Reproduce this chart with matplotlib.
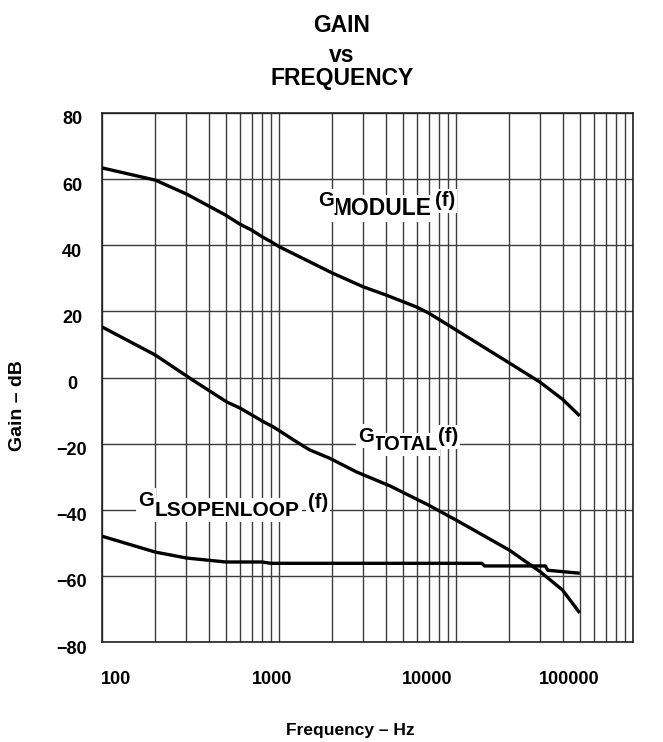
import matplotlib
matplotlib.use("Agg")
import matplotlib.pyplot as plt
import matplotlib.transforms as mtransforms
from matplotlib.ticker import LogLocator, NullFormatter

# data (Hz, dB)
freq_module = [100, 200, 300, 400, 500, 600, 700, 800, 900, 1000, 2000, 3000, 4000, 6000, 7000, 10000, 20000, 30000, 40000, 50000]
gain_module = [63.4, 59.7, 55.5, 51.9, 49.1, 46.4, 44.6, 42.6, 41.1, 39.6, 31.6, 27.4, 25.0, 21.3, 19.5, 14.4, 4.4, -1.5, -6.6, -11.6]

freq_total = [100, 200, 326, 507, 600, 818, 933, 1260, 1490, 1930, 2750, 4240, 7000, 10000, 20000, 30000, 40000, 50000]
gain_total = [15.3, 6.8, -0.8, -7.4, -9.2, -13.4, -15.0, -19.5, -21.9, -24.4, -28.6, -32.8, -38.6, -43.1, -52.2, -58.8, -64.3, -71.2]

freq_open = [100, 200, 300, 500, 800, 900, 14000, 14500, 32000, 33000, 50000]
gain_open = [-48.0, -52.8, -54.6, -55.8, -55.8, -56.2, -56.2, -57.0, -57.0, -58.3, -59.2]

x_ticks = [100, 1000, 10000, 100000]
x_ticklabels = ["100", "1000", "10000", "100000"]
x_label_shift = [14, -7, -29, -64]   # pixels, labels sit off the decade lines in the original
y_ticks = [80, 60, 40, 20, 0, -20, -40, -60, -80]

W, H = 663, 742
plt.rcParams['font.family'] = ['Liberation Sans', 'DejaVu Sans']
plt.rcParams['font.weight'] = 'bold'

fig = plt.figure(figsize=(W / 100, H / 100), dpi=100)
ax = fig.add_axes([102 / W, 1 - 642 / H, 531 / W, 529 / H])

grid_col = '#3c3c3c'
for fx, gy in [(freq_module, gain_module), (freq_total, gain_total), (freq_open, gain_open)]:
    ax.plot(fx, gy, color='black', lw=2.4, solid_capstyle='butt', solid_joinstyle='round', zorder=3)

ax.set_xscale('log')
ax.set_xlim(100, 100000)
ax.set_ylim(-80, 80)
ax.set_xticks(x_ticks)
ax.set_xticklabels(x_ticklabels)
ax.xaxis.set_minor_locator(LogLocator(base=10, subs=range(2, 10)))
ax.xaxis.set_minor_formatter(NullFormatter())
ax.set_yticks(y_ticks)
ax.grid(True, which='major', color=grid_col, lw=1.0)
ax.grid(True, which='minor', axis='x', color=grid_col, lw=1.0)
ax.tick_params(which='both', length=0)
ax.tick_params(axis='x', pad=21, labelsize=13)
ax.tick_params(axis='y', pad=21.6, labelsize=13)
for s in ax.spines.values():
    s.set_color('#222222')
    s.set_linewidth(1.2)

for lab in ax.get_yticklabels():
    lab.set_horizontalalignment('center')
    lab.set_transform(lab.get_transform() + mtransforms.ScaledTranslation(0, -5 / 100, fig.dpi_scale_trans))
for lab, dx in zip(ax.get_xticklabels(), x_label_shift):
    lab.set_transform(lab.get_transform() + mtransforms.ScaledTranslation(dx / 100, 0, fig.dpi_scale_trans))

def px(x, y):
    return x / W, 1 - y / H

# title
fig.text(*px(342, 26), "GAIN", ha='center', va='center', fontsize=16.5)
fig.text(*px(342, 55), "vs", ha='center', va='center', fontsize=16.5)
fig.text(*px(342, 78), "FREQUENCY", ha='center', va='center', fontsize=16.5)

fig.text(*px(350, 730), "Frequency \u2013 Hz", ha='center', va='center', fontsize=12.5)
fig.text(*px(18, 406), "Gain \u2013 dB", ha='center', va='center', rotation=90, fontsize=14)

# curve labels: G, lowered name, (f)
box = dict(facecolor='white', edgecolor='none', pad=1.5)
curve_labels = [
    ((318, 201), (332, 208.5), (435, 201), "MODULE", 16.5),
    ((358, 436), (373, 444.5), (438, 437), "TOTAL", 14.5),
    ((138, 500), (155, 510), (308, 502), "LSOPENLOOP", 15),
]
for g_pos, n_pos, f_pos, name, size in curve_labels:
    fig.text(*px(*n_pos), name, ha='left', va='center', fontsize=size, bbox=box)
    fig.text(*px(*g_pos), "G", ha='left', va='center', fontsize=14.5, bbox=box)
    fig.text(*px(*f_pos), "(f)", ha='left', va='center', fontsize=14.5, bbox=box)

fig.savefig("out.png", dpi=100)
